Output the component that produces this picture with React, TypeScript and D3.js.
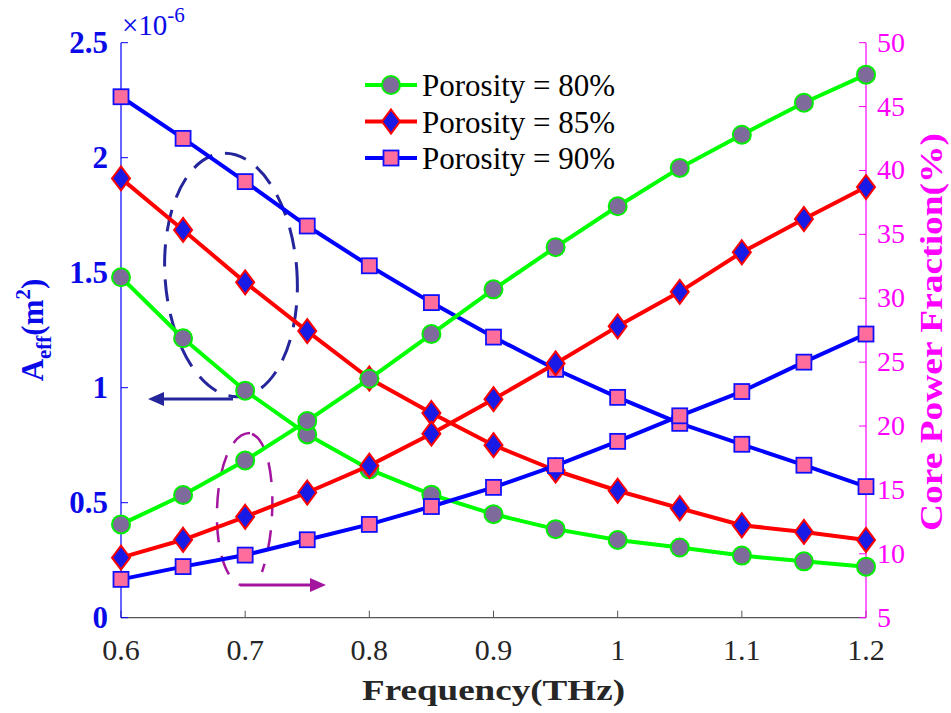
import React from 'react';
import * as d3 from 'd3';

const frequency = [0.6, 0.65, 0.7, 0.75, 0.8, 0.85, 0.9, 0.95, 1.0, 1.05, 1.1, 1.15, 1.2];

// effective area (m^2), left axis
const aeff80 = [1.48e-6, 1.215e-6, 0.987e-6, 0.797e-6, 0.645e-6, 0.535e-6, 0.45e-6, 0.385e-6, 0.338e-6, 0.305e-6, 0.27e-6, 0.245e-6, 0.222e-6];
const aeff85 = [1.91e-6, 1.686e-6, 1.458e-6, 1.246e-6, 1.04e-6, 0.89e-6, 0.75e-6, 0.64e-6, 0.552e-6, 0.476e-6, 0.402e-6, 0.373e-6, 0.338e-6];
const aeff90 = [2.265e-6, 2.084e-6, 1.896e-6, 1.703e-6, 1.53e-6, 1.37e-6, 1.22e-6, 1.08e-6, 0.958e-6, 0.845e-6, 0.754e-6, 0.663e-6, 0.57e-6];

// core power fraction (%), right axis
const cpf80 = [12.3, 14.6, 17.3, 20.4, 23.7, 27.2, 30.7, 34.0, 37.2, 40.2, 42.8, 45.3, 47.5];
const cpf85 = [9.7, 11.1, 12.9, 14.8, 16.9, 19.4, 22.1, 24.9, 27.8, 30.5, 33.6, 36.2, 38.7];
const cpf90 = [8.0, 9.0, 9.9, 11.1, 12.3, 13.7, 15.2, 16.9, 18.8, 20.8, 22.7, 25.0, 27.2];

const xTicks = [0.6, 0.7, 0.8, 0.9, 1, 1.1, 1.2];
const leftTicks = [0, 0.5e-6, 1e-6, 1.5e-6, 2e-6, 2.5e-6];
const rightTicks = [5, 10, 15, 20, 25, 30, 35, 40, 45, 50];
const legendLabels = ['Porosity = 80%', 'Porosity = 85%', 'Porosity = 90%'];

const W = 951, H = 713;
const left = 121, right = 866, top = 42.7, bottom = 617.7;

const x = d3.scaleLinear().domain([0.6, 1.2]).range([left, right]);
const yL = d3.scaleLinear().domain([0, 2.5e-6]).range([bottom, top]);
const yR = d3.scaleLinear().domain([5, 50]).range([bottom, top]);

const serif = "'Liberation Serif', 'Times New Roman', serif";

const styles = [
  {line: '#00ff00', fill: '#7f6a9c', edge: '#00ee00', marker: 'circle'},
  {line: '#ff0000', fill: '#1a1ae6', edge: '#ff0000', marker: 'diamond'},
  {line: '#0000ff', fill: '#ff6d9d', edge: '#1010ff', marker: 'square'},
];

function Marker({kind, cx, cy, fill, edge}: any) {
  if (kind === 'circle') {
    return <circle cx={cx} cy={cy} r={9} fill={fill} stroke={edge} strokeWidth={2} />;
  }
  if (kind === 'diamond') {
    const w = 9, h = 12;
    return <path d={`M${cx},${cy - h}L${cx + w},${cy}L${cx},${cy + h}L${cx - w},${cy}Z`}
      fill={fill} stroke={edge} strokeWidth={2} />;
  }
  return <rect x={cx - 7.5} y={cy - 7.5} width={15} height={15} fill={fill} stroke={edge} strokeWidth={1.8} />;
}

function Series({values, scale, s}: any) {
  const line = d3.line<number>().x((d, i) => x(frequency[i])).y((d) => scale(d));
  return (
    <g>
      <path d={line(values) || ''} fill="none" stroke={s.line} strokeWidth={4} strokeLinejoin="round" />
      {values.map((v: number, i: number) => (
        <Marker key={i} kind={s.marker} cx={x(frequency[i])} cy={scale(v)} fill={s.fill} edge={s.edge} />
      ))}
    </g>
  );
}

export default function App() {
  const leftSeries = [aeff80, aeff85, aeff90];
  const rightSeries = [cpf80, cpf85, cpf90];
  const tx = {fontFamily: serif};
  return (
    <svg width={W} height={H} style={{position: 'absolute', left: 0, top: 0, background: '#fff', fontFamily: serif}}>
      {/* annotations */}
      <ellipse cx={231} cy={275} rx={66} ry={122} fill="none" stroke="#25259c" strokeWidth={3}
        strokeDasharray="22 13" transform="rotate(-4 231 275)" />
      <path d="M233,399L156,399" stroke="#25259c" strokeWidth={3} />
      <path d="M148,399L164,392L164,406Z" fill="#25259c" />
      <path d="M250,433C230,433 218,470 217,510C216,545 224,578 240,585" fill="none" stroke="#a3159f"
        strokeWidth={2.5} strokeDasharray="20 14" />
      <path d="M252,434C268,440 274,480 272,515C271,540 266,560 262,572" fill="none" stroke="#a3159f"
        strokeWidth={2.5} strokeDasharray="20 14" />
      <path d="M240,585L318,585" stroke="#a3159f" strokeWidth={3} />
      <path d="M326,585L310,578L310,592Z" fill="#a3159f" />

      {/* x axis */}
      <line x1={left} x2={right} y1={bottom} y2={bottom} stroke="#555" strokeWidth={1.2} />
      {xTicks.map((t) => (
        <g key={t}>
          <line x1={x(t)} x2={x(t)} y1={bottom} y2={bottom - 7} stroke="#555" />
          <text style={tx} x={x(t)} y={bottom + 42} textAnchor="middle" fontSize={30} fill="#262626">{t}</text>
        </g>
      ))}
      <text style={tx} x={(left + right) / 2} y={bottom + 82} textAnchor="middle" fontSize={30} fontWeight="bold"
        fill="#262626" textLength={263} lengthAdjust="spacingAndGlyphs">Frequency(THz)</text>

      {/* left axis */}
      <line x1={left} x2={left} y1={top} y2={bottom} stroke="#0000ff" strokeWidth={1.2} />
      {leftTicks.map((t) => (
        <g key={t}>
          <line x1={left} x2={left + 7} y1={yL(t)} y2={yL(t)} stroke="#0000ff" />
          <text style={tx} x={108} y={yL(t) + 10} textAnchor="end" fontSize={31} fontWeight="bold" fill="#0a0ae8">
            {+(t * 1e6).toFixed(1)}
          </text>
        </g>
      ))}
      <text style={tx} x={122} y={35} fontSize={29} fill="#0a0ae8">×10<tspan dy={-13} fontSize={21}>-6</tspan></text>
      <g transform="translate(43,330) rotate(-90)">
        <text style={tx} textAnchor="middle" fontSize={31} fontWeight="bold" fill="#0a0ae8">
          A<tspan dy={8} fontSize={21}>eff</tspan><tspan dy={-8}>(m</tspan><tspan dy={-13} fontSize={21}>2</tspan><tspan dy={13}>)</tspan>
        </text>
      </g>

      {/* right axis */}
      <line x1={right} x2={right} y1={top} y2={bottom} stroke="#ff00ff" strokeWidth={1.2} />
      {rightTicks.map((t) => (
        <g key={t}>
          <line x1={right} x2={right - 7} y1={yR(t)} y2={yR(t)} stroke="#ff00ff" />
          <text style={tx} x={877} y={yR(t) + 9} fontSize={28} fill="#ff00ff">{t}</text>
        </g>
      ))}
      <g transform="translate(942,332) rotate(-90)">
        <text style={tx} textAnchor="middle" fontSize={31} fontWeight="bold" fill="#ff00ff"
          textLength={398} lengthAdjust="spacingAndGlyphs">Core Power Fraction(%)</text>
      </g>

      {/* data */}
      {leftSeries.map((v, i) => <Series key={'l' + i} values={v} scale={yL} s={styles[i]} />)}
      {rightSeries.map((v, i) => <Series key={'r' + i} values={v} scale={yR} s={styles[i]} />)}

      {/* legend */}
      {legendLabels.map((lab, i) => {
        const cy = 85 + i * 36.5;
        return (
          <g key={lab}>
            <line x1={365} x2={417} y1={cy} y2={cy} stroke={styles[i].line} strokeWidth={4} />
            <Marker kind={styles[i].marker} cx={391} cy={cy} fill={styles[i].fill} edge={styles[i].edge} />
            <text style={tx} x={422} y={cy + 11} fontSize={31} fill="#000">{lab}</text>
          </g>
        );
      })}
    </svg>
  );
}
